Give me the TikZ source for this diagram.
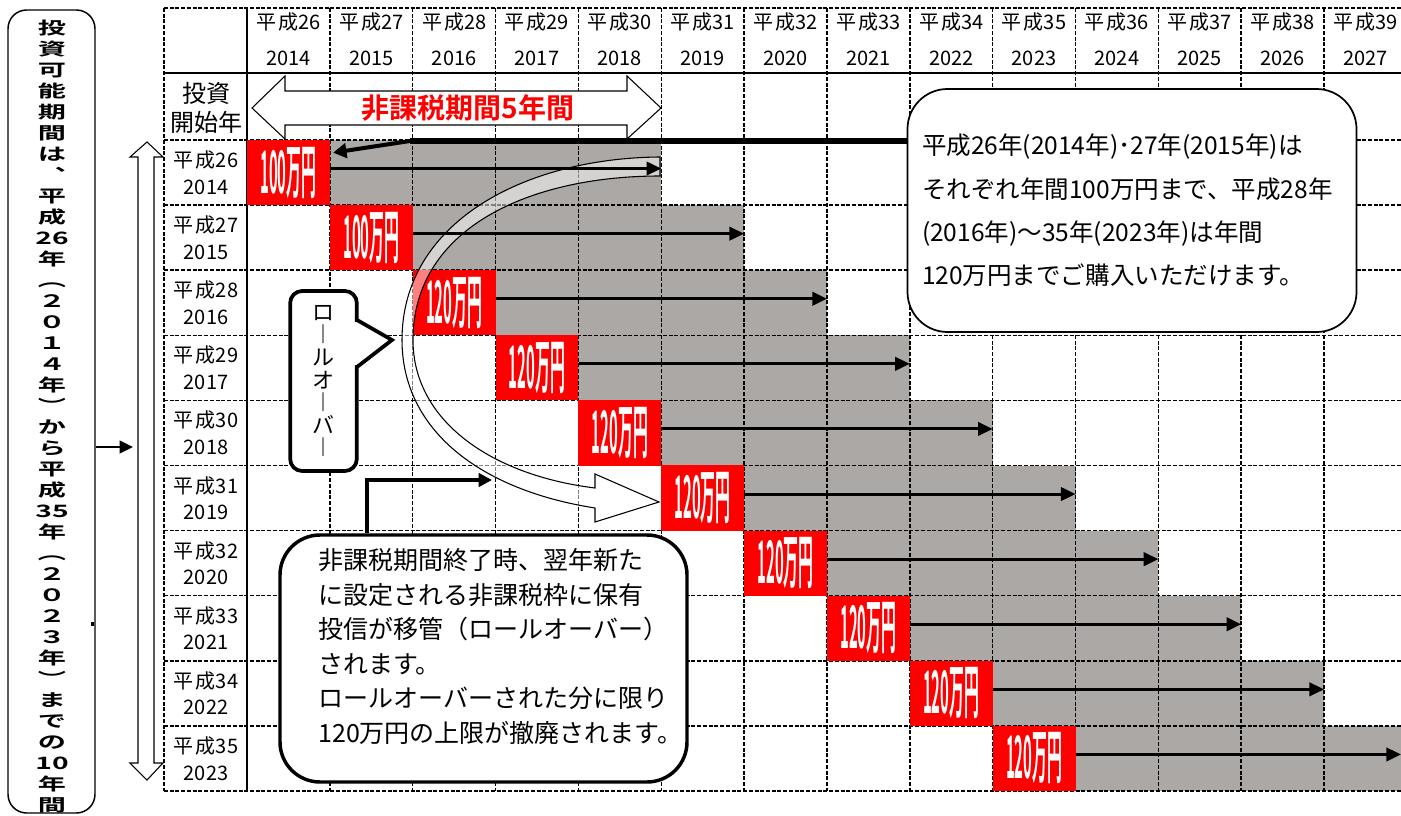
\documentclass[tikz,border=0pt]{standalone}
\usepackage{fontspec}
\setmainfont{Noto Sans CJK JP}[BoldFont={Noto Sans CJK JP Bold}]
\usetikzlibrary{arrows.meta,calc}
\definecolor{cellgray}{RGB}{171,168,166}
\definecolor{boxred}{RGB}{255,0,0}
\newcommand{\redtxt}[1]{\scalebox{0.62}[2.45]{#1}}
\begin{document}
\begin{tikzpicture}[x=0.75pt,y=-0.75pt,
  gridline/.style={line width=1.1pt, dash pattern=on 3pt off 1.3pt},
  solidline/.style={line width=1.4pt},
  hdr/.style={font=\fontsize{15pt}{15pt}\selectfont, inner sep=0pt},
  redbox/.style={fill=boxred, minimum width=62.2pt, minimum height=48.9pt, inner sep=0pt, text=white, font=\bfseries\fontsize{18pt}{18pt}\selectfont},
  rowarrow/.style={line width=2.2pt, -{Triangle[length=11pt,width=10pt]}},
  outlinearrow/.style={draw=black, fill=white, line width=0.8pt},
  callout/.style={draw=black, fill=white, inner sep=0pt},
]
\useasboundingbox (0,0) rectangle (1401,816);
\fill[white] (0,0) rectangle (1401,816);

% gray shading of the tax-free periods
\foreach \k in {0,...,9}{
  \pgfmathsetmacro\xa{247+82.85*(\k+1)}
  \pgfmathsetmacro\xb{min(247+82.85*(\k+5),1401)}
  \pgfmathsetmacro\ya{140+65.1*\k}
  \pgfmathsetmacro\yb{140+65.1*(\k+1)}
  \fill[cellgray] (\xa,\ya) rectangle (\xb,\yb);
}

% grid
\foreach \k in {1,...,13}{
  \pgfmathsetmacro\xx{247+82.85*\k}
  \draw[gridline] (\xx,8) -- (\xx,791);
}
\draw[gridline] (164,8) -- (164,791);
\draw[gridline] (164,8) -- (1401,8);
\foreach \k in {0,...,10}{
  \pgfmathsetmacro\yy{140+65.1*\k}
  \draw[gridline] (164,\yy) -- (1401,\yy);
}
\draw[solidline] (164,73) -- (1401,73);
\draw[solidline] (247,8) -- (247,791);

% column headers
\foreach \k in {0,...,13}{
  \pgfmathsetmacro\cx{247+82.85*\k+41.4}
  \pgfmathtruncatemacro\hy{26+\k}
  \pgfmathtruncatemacro\yr{2014+\k}
  \node[hdr] (h\k) at (\cx,22) {平\kern1.5pt成\hy};
  \node[hdr] (hy\k) at (\cx,58) {\yr};
}
\node[font=\fontsize{18pt}{21.75pt}\selectfont, align=center, inner sep=0pt] (inv) at (206,107.5) {投資\\開始年};

% row labels
\foreach \k in {0,...,9}{
  \pgfmathsetmacro\ty{140+65.1*\k}
  \pgfmathtruncatemacro\hy{26+\k}
  \pgfmathtruncatemacro\yr{2014+\k}
  \node[hdr] (l\k) at (206,\ty+20) {平\kern1.5pt成\hy};
  \node[hdr] (ly\k) at (206,\ty+47) {\yr};
}

% red boxes
\foreach \k in {0,...,9}{
  \pgfmathsetmacro\cx{247+82.85*\k+41.425}
  \pgfmathsetmacro\cy{140+65.1*\k+32.55}
  \ifnum\k<2 \def\amt{100}\else\def\amt{120}\fi
  \node[redbox] (r\k) at (\cx,\cy) {\redtxt{\amt 万円}};
}

% curved roll-over arrow
\filldraw[fill=white, fill opacity=0.5, draw=black, line width=0.8pt]
  (660,157) .. controls (525,158) and (402,222) .. (402,340)
  .. controls (402,430) and (480,490) .. (595,508)
  -- (595,522) -- (659,502) -- (595,474) -- (595,488)
  .. controls (490,475) and (413,420) .. (413,340)
  .. controls (413,228) and (530,176) .. (660,176) -- cycle;

% row arrows
\foreach \k in {0,...,9}{
  \pgfmathsetmacro\xe{min(247+82.85*(\k+5),1401)}
  \coordinate (s\k) at ([yshift=3pt]r\k.east);
  \coordinate (e\k) at (\xe,0);
  \draw[rowarrow] (s\k) -- (s\k -| e\k);
}

% five-year double arrow
\draw[outlinearrow] (252,108) -- (285,76) -- (285,91) -- (627,91) -- (627,76) -- (661,108)
  -- (627,139) -- (627,125) -- (285,125) -- (285,139) -- cycle;
\node[font=\bfseries\fontsize{21pt}{21pt}\selectfont, text=boxred, inner sep=0pt] (five) at (468,108) {非課税期間5年間};

% vertical double arrow
\draw[outlinearrow] (147,142) -- (163,157) -- (154,157) -- (154,763) -- (163,763) -- (147,780)
  -- (130,763) -- (138,763) -- (138,157) -- (130,157) -- cycle;

% left box with vertical text
\node[draw, line width=1.1pt, rounded corners=14pt, minimum width=65.25pt, minimum height=602.25pt, inner sep=0pt] (lb) at (51.5,411.5) {};
\begin{scope}[shift={(52,416.5)}, xscale=1.65]
\node[transform shape, align=center, inner sep=0pt, font=\bfseries\fontsize{12.8pt}{15.75pt}\selectfont] (lbt) at (0,0)
 {投\\資\\可\\能\\期\\間\\は\\︑\\平\\成\\26\\年\\︵\\２\\０\\１\\４\\年\\︶\\か\\ら\\平\\成\\35\\年\\︵\\２\\０\\２\\３\\年\\︶\\ま\\で\\の\\10\\年\\間};
\end{scope}
\fill (90.5,622) rectangle (94,626);
\coordinate (vat) at (133,447);
\draw[line width=1.5pt, -{Triangle[length=10pt,width=9.5pt]}] (lb.east |- vat) -- (vat);

% roll-over callout
\node[callout, line width=2.8pt, rounded corners=9pt, minimum width=50pt, minimum height=135pt] (roll) at (323.5,381) {};
\fill[white] (353,322) -- (357,322) -- (392,340) -- (357,365) -- (353,365) -- cycle;
\draw[line width=2.8pt, line join=miter] (357,320) -- (392,340) -- (357,367);
\node[font=\fontsize{16.5pt}{16.9pt}\selectfont, align=center, inner sep=0pt] (rolltxt) at (roll.center) {ロ\\︱\\ル\\オ\\︱\\バ\\︱};

% top-right callout
\node[callout, line width=1.3pt, rounded corners=30pt, minimum width=336.75pt, minimum height=182.25pt,
      text width=315pt, align=left, font=\fontsize{18.4pt}{32.5pt}\selectfont] (tr) at (1132,210.5)
 {平成26年(2014年)･27年(2015年)は\\それぞれ年間100万円まで、平成28年\\(2016年)～35年(2023年)は年間\\120万円までご購入いただけます。};
\coordinate (bendA) at (410,141);
\coordinate (tipA) at ($(r0.north east)+(3,13)$);
\draw[line width=4.5pt] (tr.west |- bendA) -- (bendA);
\draw[line width=3pt, -{Triangle[length=10pt,width=11pt]}] (bendA) -- (tipA);

% bottom-left callout
\node[callout, line width=2.6pt, rounded corners=30pt, minimum width=305.25pt, minimum height=185.25pt] (bl) at (483.5,658.5) {};
\node[anchor=west, align=left, inner sep=0pt, font=\fontsize{18.75pt}{25.95pt}\selectfont] (blt) at (318,646.5)
 {非課税期間終了時、翌年新た\\に設定される非課税枠に保有\\投信が移管（ロールオーバー）\\されます。\\ロールオーバーされた分に限り\\120万円の上限が撤廃されます。};
\coordinate (bendB) at (367,480);
\coordinate (tipB) at (492,480);
\draw[line width=3pt, -{Triangle[length=10pt,width=10pt]}] (bl.north -| bendB) -- (bendB) -- (tipB);
\end{tikzpicture}
\end{document}
